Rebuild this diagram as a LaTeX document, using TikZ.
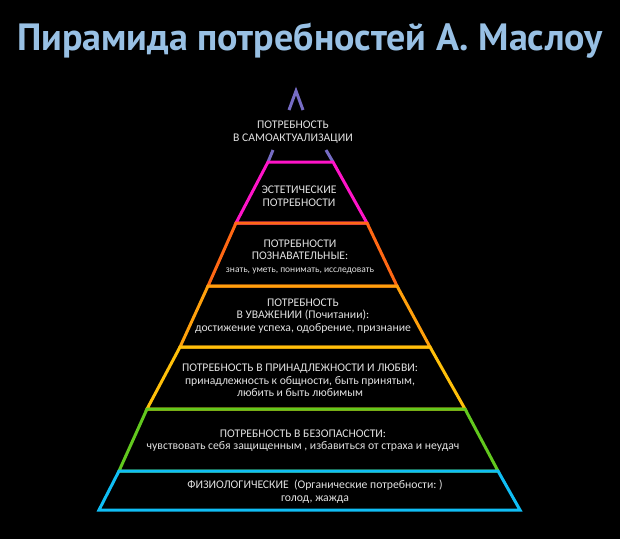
\documentclass[tikz,border=0pt]{standalone}
\usepackage{fontspec}
\setmainfont{Carlito}
\newfontfamily\titlefont{PT Sans}
\definecolor{TitleBlue}{RGB}{152,192,228}
\definecolor{TextGray}{RGB}{225,225,225}
\definecolor{TopPurple}{RGB}{118,108,196}
\definecolor{Magenta}{RGB}{255,20,200}
\definecolor{OrangeRed}{RGB}{255,104,20}
\definecolor{DeepOrange}{RGB}{255,160,12}
\definecolor{Amber}{RGB}{255,192,10}
\definecolor{LeafGreen}{RGB}{98,200,30}
\definecolor{SkyBlue}{RGB}{16,190,245}

\begin{document}
\begin{tikzpicture}[x=1pt,y=-1pt,
    tier/.style={line width=3pt, line join=miter},
    tiertext/.style={text=TextGray, align=center, inner sep=0pt,
        font=\fontsize{11.7}{12.5}\selectfont}]

    % Black page
    \fill[black] (0,0) rectangle (620,539);

    % Title
    \node[text=TitleBlue, anchor=base, inner sep=0pt,
        font=\titlefont\bfseries\fontsize{38}{44}\selectfont]
        (title) at (310,50) {Пирамида потребностей А. Маслоу};

    % Top of the pyramid: open purple sides
    \draw[tier, TopPurple] (289,110) -- (296,91) -- (303,110);
    \draw[tier, TopPurple] (273,150) -- (268,162);
    \draw[tier, TopPurple] (326,150) -- (333,162);

    % Layers, top to bottom: top y / left / right, bottom y / left / right
    \foreach \yt/\xlt/\xrt/\yb/\xlb/\xrb/\col in {
        162/268/333/223/236/367/Magenta,
        223/236/367/286/208/397/OrangeRed,
        286/208/397/347/180/430/DeepOrange,
        347/180/430/409/147/465/Amber,
        409/147/465/471/119/498/LeafGreen,
        471/119/498/510/99/520/SkyBlue} {
        \draw[tier, \col] (\xlt,\yt) -- (\xrt,\yt) -- (\xrb,\yb) -- (\xlb,\yb) -- cycle;
    }

    % Texts of the layers
    \node[tiertext] (selfact) at (293,132) {ПОТРЕБНОСТЬ\\В САМОАКТУАЛИЗАЦИИ};
    \node[tiertext] (aesthetic) at (299,196) {ЭСТЕТИЧЕСКИЕ\\ПОТРЕБНОСТИ};
    \node[tiertext] (cognitive) at (300,256.5) {ПОТРЕБНОСТИ\\ПОЗНАВАТЕЛЬНЫЕ:\\
        {\fontsize{9.5}{11}\selectfont знать, уметь, понимать, исследовать}};
    \node[tiertext] (esteem) at (303,316) {ПОТРЕБНОСТЬ\\В УВАЖЕНИИ (Почитании):\\
        достижение успеха, одобрение, признание};
    \node[tiertext] (belonging) at (300,380.5) {ПОТРЕБНОСТЬ В ПРИНАДЛЕЖНОСТИ И ЛЮБВИ:\\
        принадлежность к общности, быть принятым,\\любить и быть любимым};
    \node[tiertext] (safety) at (303,440.5) {ПОТРЕБНОСТЬ В БЕЗОПАСНОСТИ:\\
        чувствовать себя защищенным , избавиться от страха и неудач};
    \node[tiertext] (physio) at (315,491.5) {ФИЗИОЛОГИЧЕСКИЕ~~(Органические потребности:~)\\голод, жажда};
\end{tikzpicture}
\end{document}
